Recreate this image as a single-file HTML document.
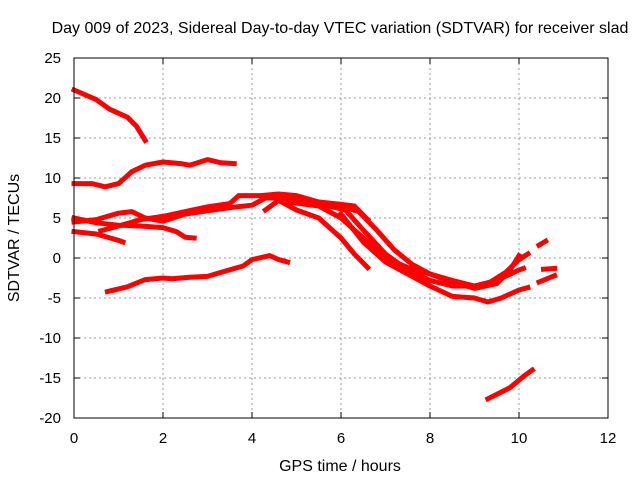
<!DOCTYPE html>
<html><head><meta charset="utf-8"><style>
body{margin:0;background:#fff}
svg{display:block;font-family:"Liberation Sans",sans-serif}
</style></head><body>
<svg id="c" width="640" height="480">
<text x="340" y="33" font-size="16" text-anchor="middle">Day 009 of 2023, Sidereal Day-to-day VTEC variation (SDTVAR) for receiver slad</text>
<text x="340" y="471" font-size="16" text-anchor="middle">GPS time / hours</text>
<text transform="translate(19,238) rotate(-90)" font-size="16" text-anchor="middle">SDTVAR / TECUs</text>
<g id="grid"></g><g id="series"></g>
<rect x="74" y="58" width="534" height="360" fill="none" stroke="#000" stroke-width="1"/>
</svg>
<script>
const xTicks=[0,2,4,6,8,10,12];
const yTicks=[-20,-15,-10,-5,0,5,10,15,20,25];
const s1=[[0,21],[0.5,19.8],[0.8,18.6],[1.2,17.6],[1.4,16.5],[1.6,14.7]];
const s2=[[0,9.3],[0.4,9.3],[0.7,8.9],[1,9.3],[1.3,10.8],[1.6,11.6],[2,12],[2.4,11.8],[2.6,11.6],[3,12.3],[3.3,11.9],[3.6,11.8]];
const s3=[[0.75,-4.2],[1.2,-3.6],[1.6,-2.7],[2,-2.5],[2.2,-2.6],[2.6,-2.4],[3,-2.3],[3.3,-1.8],[3.8,-1.0],[4,-0.2],[4.4,0.3],[4.6,-0.2],[4.8,-0.5]];
const s4=[[0,3.3],[0.5,3.0],[1,2.2],[1.1,2.0]];
const s5=[[0,5],[0.5,4.4],[1,4.1],[1.5,4.0],[2,3.8],[2.3,3.3],[2.5,2.6],[2.7,2.5]];
const s6=[[0,4.5],[0.5,4.8],[1,5.6],[1.3,5.8],[1.6,5],[2,4.6],[2.5,5.5],[3,5.9],[3.5,6.3],[4,6.6],[4.3,7.5],[4.7,7.5],[5,7.3],[5.5,7.0],[6,6.7],[6.3,6.5],[6.6,4.8]];
const s7=[[0.6,3.4],[1,4],[1.5,4.8],[2,5.2],[2.5,5.8],[3,6.4],[3.5,6.8],[3.7,7.8],[4.2,7.8],[4.6,8],[5,7.8],[5.5,7],[6,6.5],[6.4,5.8],[6.8,3.5],[7.2,1],[7.6,-0.8],[8,-2],[8.5,-2.8],[9,-3.5],[9.3,-3.2],[9.7,-1.8],[10,-0.2],[10.2,0.5]];
const s8=[[4.3,6],[4.6,7.2],[5,6],[5.5,5],[6,2.5],[6.3,0.5],[6.6,-1.2]];
const s9=[[4.8,7],[5.5,6.5],[6,5],[6.5,2.5],[7,0],[7.5,-1.2],[8,-2],[8.5,-3],[9,-3.8],[9.5,-3.2],[9.8,-1.5],[10,0.3]];
const s10=[[5.5,6.8],[6.1,6],[6.5,3.5],[7,0.5],[7.5,-1.5],[8,-2.8],[8.5,-3.5],[9,-3.5],[9.5,-2.8],[10,-1.5],[10.1,-1.3]];
const s11=[[6,5.5],[6.5,2],[7,-0.5],[7.5,-2],[8,-3.5],[8.5,-4.8],[9,-5],[9.3,-5.5],[9.6,-5],[10,-4],[10.2,-3.7]];
const s12=[[10.45,1.6],[10.6,2.1]];
const s13=[[10.55,-1.4],[10.8,-1.3]];
const s14=[[10.45,-3],[10.8,-2.2]];
const s15=[[9.3,-17.6],[9.8,-16.2],[10.1,-14.8],[10.3,-14]];
const allSeries=[s1,s2,s3,s4,s5,s6,s7,s8,s9,s10,s11,s12,s13,s14,s15];
const X=h=>74+h*534/12, Y=v=>58+(25-v)*8;
const NS="http://www.w3.org/2000/svg";
const svg=document.getElementById('c'),grid=document.getElementById('grid'),ser=document.getElementById('series');
function mk(tag,a,p){const e=document.createElementNS(NS,tag);for(const k in a)e.setAttribute(k,a[k]);(p||svg).appendChild(e);return e;}
xTicks.forEach(t=>{const x=X(t);
 if(t>0&&t<12){const g=mk('line',{x1:x,x2:x,y1:58,y2:418,stroke:'#999','stroke-dasharray':'2,3'},grid);
 
 }
 mk('line',{x1:x,x2:x,y1:418,y2:412,stroke:'#000'},grid);mk('line',{x1:x,x2:x,y1:58,y2:64,stroke:'#000'},grid);
 const l=mk('text',{x:x,y:443,'font-size':15,'text-anchor':'middle'});l.textContent=t;
 
 });
yTicks.forEach(t=>{const y=Y(t);
 if(t>-20&&t<25){const g=mk('line',{x1:74,x2:608,y1:y,y2:y,stroke:'#999','stroke-dasharray':'2,3'},grid);
 
 }
 mk('line',{x1:74,x2:80,y1:y,y2:y,stroke:'#000'},grid);mk('line',{x1:608,x2:602,y1:y,y2:y,stroke:'#000'},grid);
 const l=mk('text',{x:61,y:y+5,'font-size':15,'text-anchor':'end'});l.textContent=t;
 
 });
allSeries.forEach((s,i)=>{const p=mk('polyline',{points:s.map(d=>X(d[0])+','+Y(d[1])).join(' '),fill:'none',stroke:'#f00','stroke-width':5,'stroke-linejoin':'round','stroke-linecap':'square'},ser);
 
 });
</script>
</body></html>
